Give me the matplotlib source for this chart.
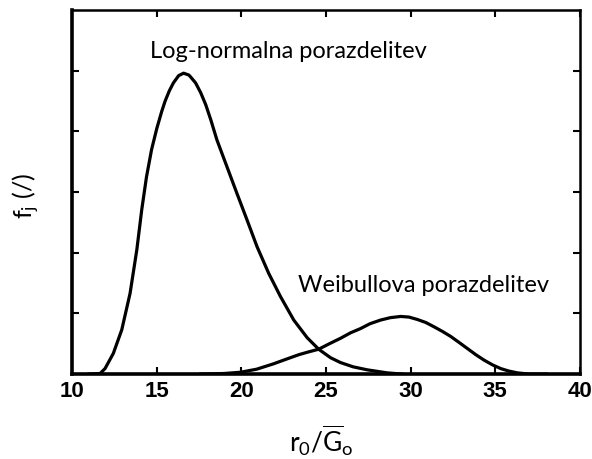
import matplotlib
matplotlib.use("Agg")
import matplotlib.pyplot as plt

plt.rcParams["mathtext.fontset"] = "custom"
plt.rcParams["mathtext.rm"] = "Lato"
plt.rcParams["mathtext.it"] = "Lato:italic"

# Log-normal distribution (read points)
ln_x = [11.0, 11.66, 11.95, 12.44, 12.94, 13.43, 13.83, 14.12, 14.4, 14.7,
        15.01, 15.3, 15.5, 15.75, 15.99, 16.3, 16.59, 16.9, 17.0, 17.3,
        17.6, 17.9, 18.2, 18.56, 19.15, 19.74, 20.34, 20.93, 21.62, 22.31,
        23.1, 23.89, 24.57, 25.27, 25.86, 26.6, 27.44, 28.62, 29.5]
ln_y = [0.0, 0.01, 0.09, 0.34, 0.73, 1.33, 2.05, 2.71, 3.25, 3.70,
        4.05, 4.33, 4.50, 4.67, 4.80, 4.92, 4.96, 4.93, 4.90, 4.80,
        4.64, 4.44, 4.19, 3.86, 3.42, 2.98, 2.54, 2.10, 1.66, 1.28,
        0.89, 0.60, 0.41, 0.27, 0.19, 0.12, 0.07, 0.02, 0.0]

# Weibull distribution (read points)
wb_x = [17.6, 19.0, 19.94, 20.9, 21.91, 22.6, 23.4, 23.9, 24.57, 25.2,
        25.86, 26.45, 27.04, 27.6, 28.22, 28.8, 29.41, 29.9, 30.4, 30.9,
        31.38, 31.9, 32.37, 32.87, 33.36, 33.85, 34.34, 34.85, 35.33, 35.8,
        36.31, 37.0, 38.0]
wb_y = [0.0, 0.01, 0.03, 0.08, 0.17, 0.24, 0.32, 0.36, 0.41, 0.50,
        0.59, 0.68, 0.75, 0.83, 0.89, 0.93, 0.95, 0.94, 0.90, 0.85,
        0.78, 0.70, 0.62, 0.52, 0.42, 0.32, 0.23, 0.15, 0.09, 0.05,
        0.02, 0.0, 0.0]

x_ticks = [10, 15, 20, 25, 30, 35, 40]
y_ticks = [1, 2, 3, 4, 5]

fig = plt.figure(figsize=(5.92, 4.59), dpi=100)
ax = fig.add_axes([0.1216, 0.185, 0.858, 0.793])

ax.plot(ln_x, ln_y, color="black", lw=2.3, solid_joinstyle="round")
ax.plot(wb_x, wb_y, color="black", lw=2.3, solid_joinstyle="round")

ax.set_xlim(10, 40)
ax.set_ylim(0, 6)
ax.set_xticks(x_ticks)
ax.set_yticks(y_ticks)
ax.set_yticklabels([])
ax.tick_params(direction="in", length=5, width=1.5, top=True, right=True,
               labelsize=16, pad=5)
for lbl in ax.get_xticklabels():
    lbl.set_fontweight("bold")
    lbl.set_family("Liberation Sans")
for side, w in [("left", 2.6), ("bottom", 2.6), ("top", 1.8), ("right", 1.8)]:
    ax.spines[side].set_linewidth(w)

ax.text(14.6, 5.21, "Log-normalna porazdelitev", fontsize=17,
        family="Lato", ha="left", va="baseline")
ax.text(23.37, 1.35, "Weibullova porazdelitev", fontsize=17,
        family="Lato", ha="left", va="baseline")

ax.set_xlabel(r"$\mathrm{r_0/\overline{G}_o}$", fontsize=19)
ax.xaxis.set_label_coords(0.49, -0.135)
ax.set_ylabel(r"$\mathrm{f_j\ (/)}$", fontsize=18)
ax.yaxis.set_label_coords(-0.059, 0.49)

fig.savefig("out.png", dpi=100)
